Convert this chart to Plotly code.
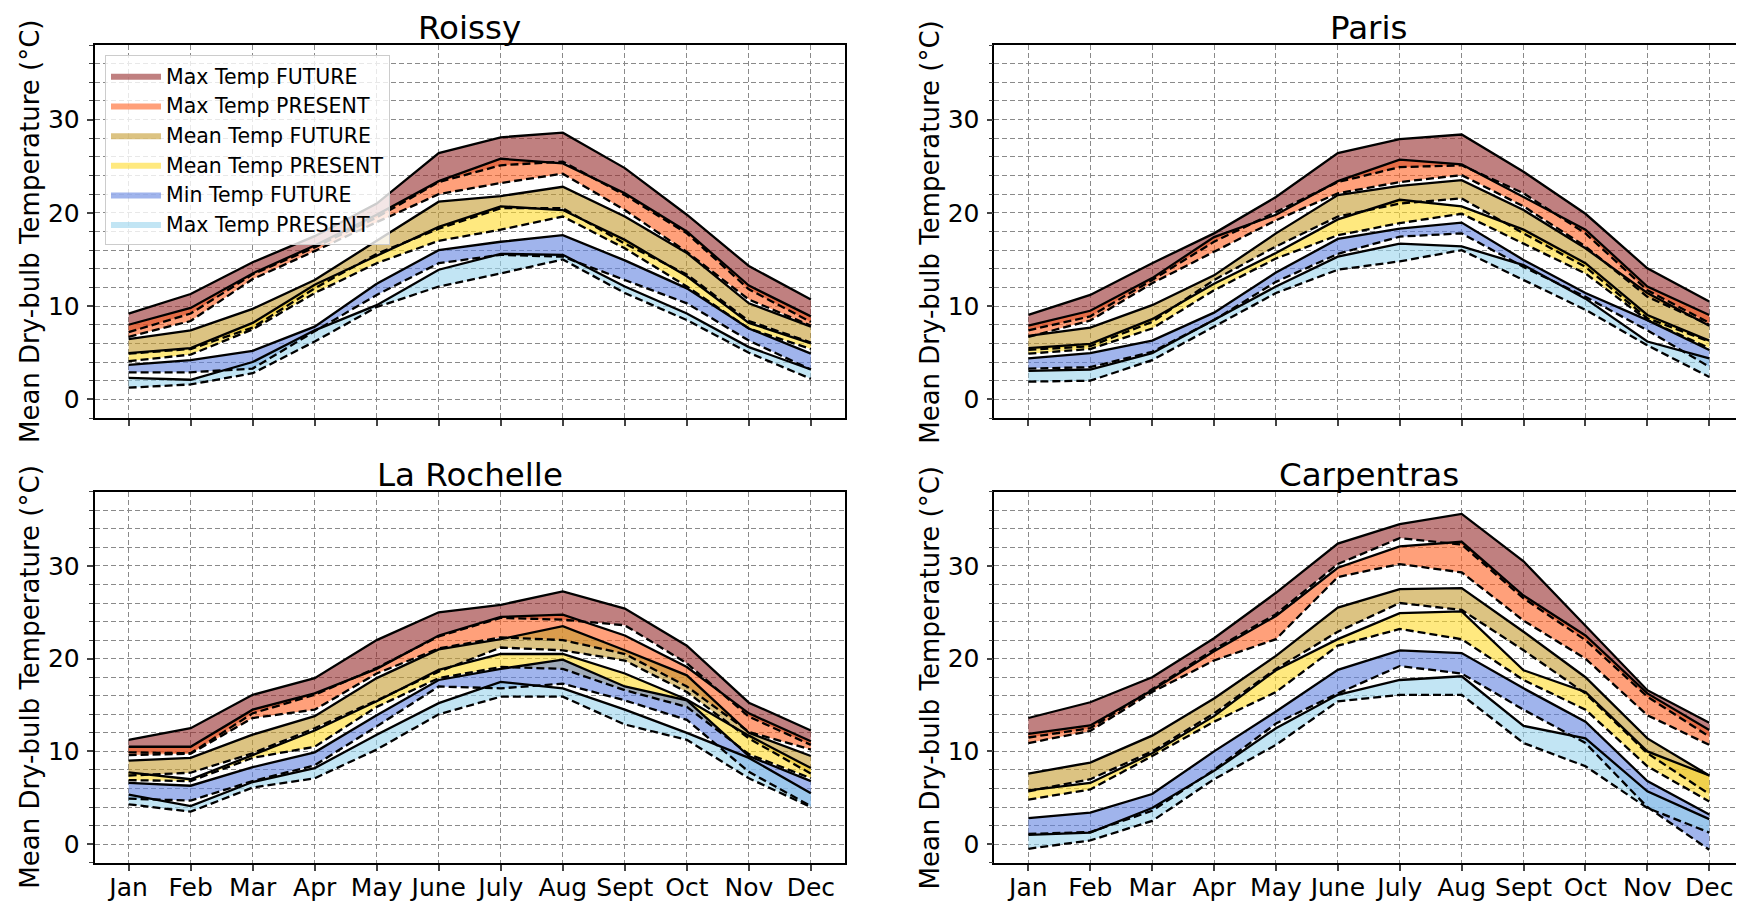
import plotly.graph_objects as go

MONTHS = ["Jan", "Feb", "Mar", "Apr", "May", "June", "July", "Aug", "Sept", "Oct", "Nov", "Dec"]
SITES = ["Roissy", "Paris", "La Rochelle", "Carpentras"]
BAND_LABELS = ["Max Temp FUTURE", "Max Temp PRESENT", "Mean Temp FUTURE",
               "Mean Temp PRESENT", "Min Temp FUTURE", "Max Temp PRESENT"]
Y_TICKS = [0, 10, 20, 30]

# ---- Roissy ----
ROISSY_MAXF_S = [9.2, 11.3, 14.7, 17.5, 21.0, 26.4, 28.1, 28.6, 24.8, 19.8, 14.3, 10.7]
ROISSY_MAXF_D = [7.2, 9.2, 13.4, 16.3, 19.5, 23.3, 25.1, 25.5, 21.9, 17.8, 11.8, 8.3]
ROISSY_MAXP_S = [8.0, 9.8, 13.5, 16.5, 19.8, 23.4, 25.8, 25.3, 22.1, 18.0, 12.2, 8.9]
ROISSY_MAXP_D = [6.7, 8.4, 12.9, 15.9, 19.0, 22.0, 23.2, 24.2, 20.3, 15.8, 10.7, 7.9]
ROISSY_MEANF_S = [6.45, 7.4, 9.7, 12.8, 17.0, 21.2, 21.8, 22.8, 19.6, 15.7, 10.3, 7.8]
ROISSY_MEANF_D = [4.9, 5.4, 7.7, 11.9, 15.6, 18.3, 20.5, 20.5, 16.7, 13.4, 8.4, 6.1]
ROISSY_MEANP_S = [4.95, 5.5, 8.2, 12.3, 15.4, 18.5, 20.7, 20.3, 17.1, 13.2, 8.2, 6.0]
ROISSY_MEANP_D = [4.1, 4.8, 7.5, 11.4, 14.6, 17.0, 18.2, 19.6, 16.2, 12.1, 7.6, 5.4]
ROISSY_MINF_S = [3.7, 4.2, 5.2, 7.8, 12.4, 16.0, 16.9, 17.6, 14.9, 11.9, 7.6, 4.9]
ROISSY_MINF_D = [2.9, 2.9, 3.3, 7.3, 11.2, 14.6, 15.5, 15.3, 12.8, 10.3, 6.3, 3.2]
ROISSY_MINP_S = [2.3, 2.1, 4.0, 7.4, 10.1, 13.9, 15.6, 15.5, 12.1, 9.2, 5.6, 3.2]
ROISSY_MINP_D = [1.25, 1.6, 2.8, 6.2, 9.9, 12.1, 13.5, 15.0, 11.4, 8.5, 5.0, 2.2]

# ---- Paris ----
PARIS_MAXF_S = [9.05, 11.2, 14.6, 17.8, 21.7, 26.4, 27.9, 28.4, 24.4, 19.9, 14.05, 10.5]
PARIS_MAXF_D = [7.4, 8.9, 12.8, 16.9, 20.1, 23.3, 24.9, 25.1, 22.1, 17.8, 11.7, 8.2]
PARIS_MAXP_S = [7.9, 9.5, 13.0, 17.4, 19.8, 23.4, 25.7, 25.2, 21.7, 18.2, 12.1, 9.05]
PARIS_MAXP_D = [6.7, 8.45, 12.45, 15.8, 19.2, 22.1, 23.3, 24.05, 20.7, 16.4, 11.0, 8.0]
PARIS_MEANF_S = [6.8, 7.7, 10.1, 13.3, 17.8, 21.9, 22.9, 23.5, 20.3, 16.2, 11.4, 7.9]
PARIS_MEANF_D = [5.3, 5.7, 8.3, 12.8, 16.4, 19.6, 21.0, 21.55, 17.8, 14.2, 8.7, 6.2]
PARIS_MEANP_S = [5.5, 5.95, 8.6, 12.4, 15.7, 19.3, 21.4, 20.7, 18.2, 14.6, 9.05, 6.3]
PARIS_MEANP_D = [4.9, 5.4, 7.6, 11.7, 15.1, 17.6, 18.9, 19.9, 16.7, 13.5, 8.5, 5.5]
PARIS_MINF_S = [4.4, 4.95, 6.3, 9.3, 13.6, 17.2, 18.3, 18.95, 14.95, 11.4, 8.5, 5.3]
PARIS_MINF_D = [3.3, 3.45, 5.1, 8.5, 12.6, 15.6, 17.45, 17.8, 14.2, 11.0, 7.4, 3.5]
PARIS_MINP_S = [3.05, 3.2, 4.95, 8.5, 12.1, 15.3, 16.7, 16.4, 14.4, 10.8, 6.2, 4.4]
PARIS_MINP_D = [1.9, 2.0, 4.2, 7.8, 11.4, 13.9, 14.8, 16.0, 12.8, 9.6, 5.8, 2.4]

# ---- La Rochelle ----
LAROCHELLE_MAXF_S = [11.25, 12.5, 16.1, 17.9, 22.0, 25.0, 25.8, 27.25, 25.4, 21.4, 15.25, 12.25]
LAROCHELLE_MAXF_D = [9.9, 9.8, 14.1, 16.1, 19.0, 22.4, 24.4, 24.2, 23.6, 19.5, 13.75, 10.7]
LAROCHELLE_MAXP_S = [10.5, 10.5, 14.5, 16.25, 18.9, 22.5, 24.5, 24.75, 22.5, 19.1, 14.1, 11.1]
LAROCHELLE_MAXP_D = [9.6, 9.75, 13.6, 14.5, 18.4, 21.1, 22.3, 22.0, 20.5, 17.0, 12.1, 10.2]
LAROCHELLE_MEANF_S = [9.0, 9.3, 11.8, 13.8, 17.9, 21.0, 22.1, 23.5, 20.9, 18.2, 12.0, 9.5]
LAROCHELLE_MEANF_D = [7.4, 7.7, 9.8, 12.5, 15.5, 18.6, 21.2, 20.9, 19.8, 16.4, 11.4, 7.6]
LAROCHELLE_MEANP_S = [7.75, 7.0, 9.6, 12.25, 15.4, 18.8, 20.5, 20.5, 18.4, 15.6, 11.7, 8.2]
LAROCHELLE_MEANP_D = [6.9, 6.8, 9.3, 10.5, 14.8, 17.9, 19.1, 18.9, 16.6, 14.8, 9.7, 7.1]
LAROCHELLE_MINF_S = [6.6, 6.3, 8.3, 9.9, 13.9, 17.7, 18.9, 19.9, 17.0, 15.5, 9.5, 6.8]
LAROCHELLE_MINF_D = [4.9, 4.7, 6.8, 8.5, 12.7, 17.0, 16.8, 17.3, 15.5, 13.4, 7.8, 4.1]
LAROCHELLE_MINP_S = [5.35, 4.1, 6.7, 8.2, 11.8, 15.2, 17.5, 16.8, 14.5, 12.0, 9.3, 5.5]
LAROCHELLE_MINP_D = [4.3, 3.5, 6.1, 7.1, 10.2, 14.0, 15.9, 15.9, 12.9, 11.25, 7.1, 4.0]

# ---- Carpentras ----
CARPENTRAS_MAXF_S = [13.6, 15.3, 18.0, 22.2, 27.1, 32.4, 34.5, 35.6, 30.5, 23.6, 16.6, 13.1]
CARPENTRAS_MAXF_D = [11.5, 12.5, 16.7, 21.0, 24.8, 30.2, 33.0, 32.3, 26.5, 22.0, 15.9, 11.6]
CARPENTRAS_MAXP_S = [11.9, 12.8, 16.6, 20.8, 24.6, 29.8, 32.1, 32.6, 26.8, 22.5, 16.25, 12.3]
CARPENTRAS_MAXP_D = [10.9, 12.2, 16.4, 19.8, 22.1, 28.8, 30.2, 29.3, 24.1, 20.0, 13.9, 10.7]
CARPENTRAS_MEANF_S = [7.6, 8.8, 11.7, 15.7, 20.3, 25.5, 27.5, 27.6, 22.9, 18.0, 11.4, 7.4]
CARPENTRAS_MEANF_D = [5.7, 7.0, 10.0, 14.1, 18.9, 22.9, 26.0, 25.25, 20.9, 16.25, 9.8, 5.4]
CARPENTRAS_MEANP_S = [5.8, 6.6, 9.8, 13.8, 18.75, 22.1, 24.9, 25.1, 18.75, 16.4, 10.0, 7.4]
CARPENTRAS_MEANP_D = [4.8, 5.9, 9.5, 13.2, 16.4, 21.4, 23.2, 22.1, 17.7, 14.5, 8.4, 4.6]
CARPENTRAS_MINF_S = [2.8, 3.4, 5.4, 10.0, 14.3, 18.8, 20.9, 20.6, 16.8, 13.2, 6.8, 3.2]
CARPENTRAS_MINF_D = [1.1, 1.3, 3.6, 8.0, 13.0, 16.25, 19.2, 18.4, 14.5, 10.9, 4.0, -0.6]
CARPENTRAS_MINP_S = [1.0, 1.25, 3.9, 7.9, 12.5, 16.1, 17.7, 18.1, 12.75, 11.4, 5.7, 2.7]
CARPENTRAS_MINP_D = [-0.5, 0.4, 2.5, 7.0, 10.7, 15.4, 16.1, 16.1, 10.9, 8.4, 3.9, 1.25]

SITE_BANDS = {
    "Roissy": [(ROISSY_MAXF_S, ROISSY_MAXF_D), (ROISSY_MAXP_S, ROISSY_MAXP_D),
               (ROISSY_MEANF_S, ROISSY_MEANF_D), (ROISSY_MEANP_S, ROISSY_MEANP_D),
               (ROISSY_MINF_S, ROISSY_MINF_D), (ROISSY_MINP_S, ROISSY_MINP_D)],
    "Paris": [(PARIS_MAXF_S, PARIS_MAXF_D), (PARIS_MAXP_S, PARIS_MAXP_D),
              (PARIS_MEANF_S, PARIS_MEANF_D), (PARIS_MEANP_S, PARIS_MEANP_D),
              (PARIS_MINF_S, PARIS_MINF_D), (PARIS_MINP_S, PARIS_MINP_D)],
    "La Rochelle": [(LAROCHELLE_MAXF_S, LAROCHELLE_MAXF_D), (LAROCHELLE_MAXP_S, LAROCHELLE_MAXP_D),
                    (LAROCHELLE_MEANF_S, LAROCHELLE_MEANF_D), (LAROCHELLE_MEANP_S, LAROCHELLE_MEANP_D),
                    (LAROCHELLE_MINF_S, LAROCHELLE_MINF_D), (LAROCHELLE_MINP_S, LAROCHELLE_MINP_D)],
    "Carpentras": [(CARPENTRAS_MAXF_S, CARPENTRAS_MAXF_D), (CARPENTRAS_MAXP_S, CARPENTRAS_MAXP_D),
                   (CARPENTRAS_MEANF_S, CARPENTRAS_MEANF_D), (CARPENTRAS_MEANP_S, CARPENTRAS_MEANP_D),
                   (CARPENTRAS_MINF_S, CARPENTRAS_MINF_D), (CARPENTRAS_MINP_S, CARPENTRAS_MINP_D)],
}

FILL_COLORS = ["rgba(150,43,43,0.6)", "rgba(255,97,33,0.6)", "rgba(197,155,47,0.6)",
               "rgba(255,218,42,0.6)", "rgba(96,130,223,0.6)", "rgba(153,212,237,0.6)"]

# The page body has an 8px default margin; the figure is sized to fill the rest
OFF = 8
W, H = 1744 - OFF, 905 - OFF
FONT = "DejaVu Sans"


def fx(px):
    return (px - OFF) / W


def fy(py):
    return 1 - (py - OFF) / H


# panel boxes in page pixels: (left, right, top, bottom)
PANELS = [(94.5, 845, 45, 418), (994.3, 1743.3, 45, 418),
          (94.5, 845, 491.7, 862.7), (994.3, 1743.3, 491.7, 862.7)]

fig = go.Figure()
xs = list(range(12))
for k, site in enumerate(SITES):
    ax = "" if k == 0 else str(k + 1)
    bands = SITE_BANDS[site]
    for b, (solid, dashed) in enumerate(bands):
        fig.add_trace(go.Scatter(
            x=xs + xs[::-1], y=list(solid) + list(dashed)[::-1],
            mode="lines", fill="toself", fillcolor=FILL_COLORS[b],
            line=dict(width=0, color=FILL_COLORS[b]),
            name=BAND_LABELS[b], showlegend=(k == 0), legendrank=b + 1,
            hoverinfo="skip", xaxis="x" + ax, yaxis="y" + ax))
    for b, (solid, dashed) in enumerate(bands):
        fig.add_trace(go.Scatter(x=xs, y=solid, mode="lines",
                                 line=dict(color="black", width=2.3),
                                 showlegend=False, hoverinfo="skip",
                                 xaxis="x" + ax, yaxis="y" + ax))
        fig.add_trace(go.Scatter(x=xs, y=dashed, mode="lines",
                                 line=dict(color="black", width=2.3, dash="8px,4px"),
                                 showlegend=False, hoverinfo="skip",
                                 xaxis="x" + ax, yaxis="y" + ax))

GRID = dict(gridcolor="#8a8a8a", gridwidth=1.2, griddash="5px,3px")
layout = dict(
    width=W, height=H, paper_bgcolor="white", plot_bgcolor="white",
    margin=dict(l=0, r=0, t=0, b=0),
    font=dict(family=FONT, size=25, color="black"),
    showlegend=True,
    legend=dict(x=fx(105), y=fy(55), xanchor="left", yanchor="top",
                bgcolor="rgba(255,255,255,0.8)", bordercolor="#cccccc", borderwidth=1,
                font=dict(family=FONT, size=20.5), itemwidth=50,
                traceorder="normal"),
    annotations=[],
)
for k, site in enumerate(SITES):
    l, r, t, bt = PANELS[k]
    sfx = "" if k == 0 else str(k + 1)
    layout["xaxis" + sfx] = dict(
        domain=[fx(l), fx(r)], anchor="y" + sfx, range=[-0.55, 11.55],
        tickmode="array", tickvals=xs, ticktext=MONTHS,
        showticklabels=(k >= 2), ticks="outside", ticklen=6, tickwidth=1.5,
        ticklabelstandoff=-5,
        showline=True, linecolor="black", linewidth=1.6, mirror=True,
        showgrid=True, zeroline=False, tickfont=dict(size=25), **GRID)
    layout["yaxis" + sfx] = dict(
        domain=[fy(bt), fy(t)], anchor="x" + sfx, range=[-2, 38],
        tickmode="array", tickvals=Y_TICKS, ticks="outside", ticklen=6, tickwidth=1.5,
        ticklabelstandoff=2,
        showline=True, linecolor="black", linewidth=1.6, mirror=True,
        showgrid=True, zeroline=False, tickfont=dict(size=25),
        minor=dict(dtick=2, tick0=0, ticks="outside", ticklen=3.5, tickwidth=1.2,
                   showgrid=True, **GRID),
        **GRID)
    layout["annotations"].append(dict(
        text=site, x=fx((l + r) / 2), y=fy(t - 17), xref="paper", yref="paper",
        xanchor="center", yanchor="middle", showarrow=False,
        font=dict(family=FONT, size=32.5)))
    layout["annotations"].append(dict(
        text="Mean Dry-bulb Temperature (°C)", x=fx(l - 64), y=fy((t + bt) / 2),
        xref="paper", yref="paper", xanchor="center", yanchor="middle",
        textangle=-90, showarrow=False, font=dict(family=FONT, size=26)))

fig.update_layout(**layout)
fig.write_html("out.html")
